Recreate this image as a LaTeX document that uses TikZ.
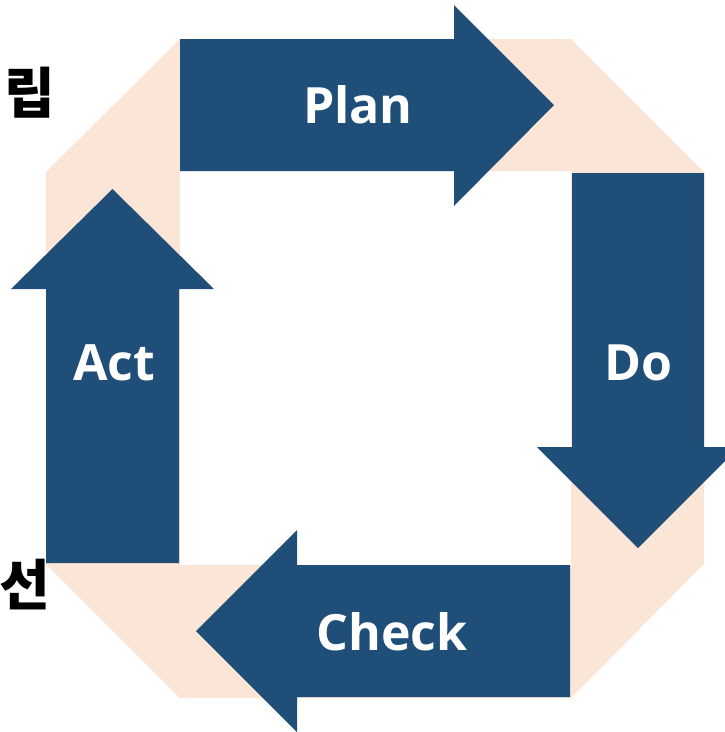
\documentclass[tikz,border=0pt]{standalone}
\usepackage{fontspec}
\setmainfont{Open Sans}
\newfontfamily\krfont{Noto Sans CJK KR}
\definecolor{navy}{RGB}{31,78,121}
\definecolor{peach}{RGB}{251,229,214}
\tikzset{
  arrowshape/.style={fill=navy},
  lbl/.style={text=white, inner sep=0pt, anchor=base, font=\fontsize{50}{60}\selectfont\bfseries},
  krlbl/.style={text=black, inner sep=0pt, font=\krfont\fontsize{55}{62}\selectfont\bfseries}
}
\begin{document}
\begin{tikzpicture}[x=1pt,y=-1pt]
\useasboundingbox (0,0) rectangle (725,732);
% peach ring
\fill[peach,even odd rule] (180,39) -- (571,39) -- (704,172) -- (704,564) -- (571,698) -- (180,698) -- (46,564) -- (46,172) -- cycle
  (180,171) rectangle (571,565);
% Plan arrow
\path[arrowshape] (180,39) -- (454,39) -- (454,5) -- (554,105) -- (454,206) -- (454,171) -- (180,171) -- cycle;
% Do arrow
\path[arrowshape] (572,173) -- (704,173) -- (704,447) -- (739,447) -- (638,548) -- (537,447) -- (572,447) -- cycle;
% Check arrow
\path[arrowshape] (570,565) -- (570,697) -- (297,697) -- (297,732) -- (196,631) -- (297,530) -- (297,565) -- cycle;
% Act arrow
\path[arrowshape] (179,563) -- (46,563) -- (46,289) -- (11,289) -- (112.5,189) -- (214,289) -- (179,289) -- cycle;
% labels
\node[lbl] (plan) at (358,123) {Plan};
\node[lbl] (do) at (638,380) {Do};
\node[lbl] (act) at (114,380) {Act};
\node[lbl] (check) at (392,650) {Check};
\node[krlbl] (k1) at (30,93) {립};
\node[krlbl] (k2) at (24.5,585) {선};
\end{tikzpicture}
\end{document}
